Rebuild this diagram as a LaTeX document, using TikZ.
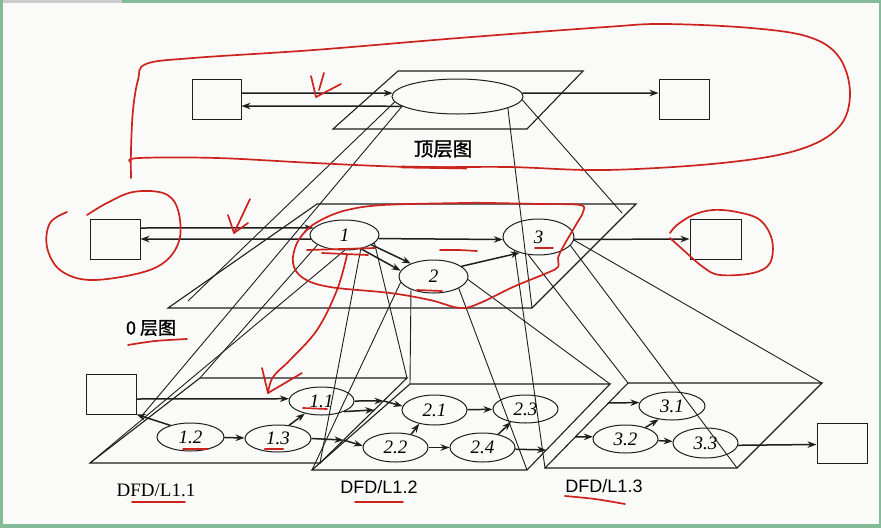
\documentclass[tikz,border=0pt]{standalone}
\usepackage{fontspec}
\setmainfont{Liberation Serif}
\setsansfont{Liberation Sans}
\newfontfamily\cjk[FakeBold=1.2]{Noto Sans CJK SC}
\usetikzlibrary{arrows,arrows.meta,shapes.geometric,calc}
\definecolor{inkred}{RGB}{205,35,30}
\definecolor{framegreen}{RGB}{132,186,152}
\definecolor{paper}{RGB}{250,250,248}
\definecolor{pen}{RGB}{30,30,30}
\tikzset{procstyle/.style = {ellipse, draw = pen, line width = 1pt, inner sep = 0pt, font = \fontsize{19}{19}\selectfont\itshape},
	boxstyle/.style = {rectangle, draw = pen, line width = 1pt, minimum width = 50pt, minimum height = 40pt, inner sep = 0pt},
	flow/.style={->, >={Stealth[length=9pt, width=6.5pt]}, line width = 1.5pt, draw = pen},
	proj/.style={draw = pen, line width = 0.9pt},
	plane/.style={draw = pen, line width = 1.1pt},
	ink/.style={draw = inkred, line width = 1.7pt, line cap = round, line join = round}}

\begin{document}
\begin{tikzpicture}[x = 1pt, y = -1pt]

 % paper and frame
 \useasboundingbox (0,0) rectangle (881,528);
 \fill[paper] (0,0) rectangle (881,528);
 \fill[gray!40] (0,0) rectangle (122,3);
 \fill[framegreen] (122,0) rectangle (881,3);
 \fill[framegreen] (0,0) rectangle (2.5,528);
 \fill[framegreen] (0,524) rectangle (881,528);
 \fill[framegreen] (878.5,0) rectangle (881,528);

 % planes
 \coordinate (tp1) at (398,71);  \coordinate (tp2) at (583,71);
 \coordinate (tp3) at (527,129); \coordinate (tp4) at (333,129);
 \coordinate (mp1) at (317,204); \coordinate (mp2) at (636,204);
 \coordinate (mp3) at (532,308); \coordinate (mp4) at (168,308);
 \coordinate (la1) at (200,378); \coordinate (la2) at (407,378);
 \coordinate (la3) at (320,463); \coordinate (la4) at (90,463);
 \coordinate (lb1) at (410,384); \coordinate (lb2) at (610,384);
 \coordinate (lb3) at (527,470); \coordinate (lb4) at (312,470);
 \coordinate (lc1) at (628,383); \coordinate (lc2) at (822,383);
 \coordinate (lc3) at (737,468); \coordinate (lc4) at (545,468);
 \foreach \pl in {tp,mp,la,lb,lc}
  \draw[plane] (\pl1) -- (\pl2) -- (\pl3) -- (\pl4) -- cycle;

 % top level
 \node (sys) at (457.5,96.5) [procstyle, minimum width = 131pt, minimum height = 35pt] {};
 \node (srcA) at (216.5,99) [boxstyle, minimum width = 49pt] {};
 \node (snkA) at (684,99) [boxstyle] {};
 \draw[flow] ([yshift=6pt]srcA.east) -- (sys.177);
 \draw[flow] (sys.190) -- ([yshift=-7pt]srcA.east);
 \draw[flow] (sys.3) -- ([yshift=6pt]snkA.west);
 \node (topcap) at (443,149) [font = \cjk\fontsize{19.5}{19.5}\selectfont] {顶层图};

 % level 0
 \node (p1) at (344.5,235) [procstyle, minimum width = 69pt, minimum height = 30pt] {1};
 \node (p2) at (433.5,276.5) [procstyle, minimum width = 69pt, minimum height = 33pt] {2};
 \node (p3) at (538.5,237) [procstyle, minimum width = 71pt, minimum height = 36pt] {3};
 \node (srcB) at (115,239) [boxstyle] {};
 \node (snkB) at (715.5,239) [boxstyle, minimum width = 51pt] {};
 \draw[flow] ([yshift=11pt]srcB.east) -- (p1.167);
 \draw[flow] (p1.187) -- (srcB.east);
 \draw[flow] (p1.354) -- (p3.184);
 \draw[flow] (p1.-20) -- (p2.150);
 \draw[flow] (p1.-40) -- (p2.170);
 \draw[flow] (p2.20) -- (p3.220);
 \draw[flow] (p3.356) -- (snkB.west);
 \node (midcap) at (151,328) [font = \cjk\fontsize{18}{18}\selectfont] {0 层图};

 % level 1
 \node (q11) at (321.5,401) [procstyle, minimum width = 65pt, minimum height = 28pt] {1.1};
 \node (q12) at (190.5,437) [procstyle, minimum width = 67pt, minimum height = 28pt] {1.2};
 \node (q13) at (278,438.5) [procstyle, minimum width = 66pt, minimum height = 27pt] {1.3};
 \node (q21) at (434.5,410) [procstyle, minimum width = 65pt, minimum height = 30pt] {2.1};
 \node (q22) at (395.5,447.5) [procstyle, minimum width = 65pt, minimum height = 29pt] {2.2};
 \node (q23) at (525.5,409) [procstyle, minimum width = 65pt, minimum height = 28pt] {2.3};
 \node (q24) at (482.5,447.5) [procstyle, minimum width = 65pt, minimum height = 29pt] {2.4};
 \node (q31) at (672,406) [procstyle, minimum width = 66pt, minimum height = 28pt] {3.1};
 \node (q32) at (625.5,439) [procstyle, minimum width = 65pt, minimum height = 28pt] {3.2};
 \node (q33) at (705.5,443) [procstyle, minimum width = 65pt, minimum height = 30pt] {3.3};
 \node (srcC) at (111,394) [boxstyle] {};
 \node (snkC) at (842,443) [boxstyle] {};

 % crossings of the plane borders
 \coordinate (xa) at ($(la2)!0.27!(la3)$);
 \coordinate (xb) at ($(la2)!0.376!(la3)$);
 \coordinate (xc) at ($(la2)!0.73!(la3)$);
 \coordinate (xd) at ($(lb2)!0.767!(lb3)$);
 \coordinate (xe) at ($(lc1)!0.235!(lc4)$);
 \coordinate (xf) at ($(lc1)!0.635!(lc4)$);

 \draw[flow] ([yshift=-5pt]srcC.east) -- (q11.176);
 \draw[flow] (q12.150) -- (srcC.south east);
 \draw[flow] (q12) -- (q13);
 \draw[flow] (q13.50) -- (q11.217);
 \draw[flow] (q11.east) -- (xa);
 \draw[flow] (xa) -- (q21.173);
 \draw[flow] (q11.-25) -- (xb);
 \draw[flow] (q13.east) -- (xc);
 \draw[flow] (xc) -- (q22.177);
 \draw[flow] (q21) -- (q23);
 \draw[flow] (q22.40) -- (q21.222);
 \draw[flow] (q22) -- (q24);
 \draw[flow] (q24.40) -- (q23.222);
 \draw[flow] (q24.-3) -- (xd);
 \draw[flow] (xe) -- (q31.174);
 \draw[flow] (xf) -- (q32.176);
 \draw[flow] (q32.30) -- (q31.225);
 \draw[flow] (q32) -- (q33);
 \draw[flow] (q33.-4) -- ([yshift=-1.5pt]snkC.west);

 \node (dfda) at (156,490) [font = \fontsize{19}{19}\selectfont] {DFD/L1.1};
 \node (dfdb) at (379,487) [font = \sffamily\fontsize{18}{18}\selectfont] {DFD/L1.2};
 \node (dfdc) at (604,486) [font = \sffamily\fontsize{18}{18}\selectfont] {DFD/L1.3};

 % projections between levels
 \coordinate (ta) at (188,301);
 \coordinate (tb) at (140,418);
 \coordinate (tc) at (622,213);
 \foreach \from/\to in {sys.185/ta, sys.190/tb, sys.-13/mp3, sys.-3/tc,
   p1.200/la1, p1.south/la4, p1.-40/la3, p1.-15/la2,
   p2.210/lb1, p2.190/lb4, p2.-25/lb3, p2.-5/lb2,
   p3.210/lc4, p3.240/lc1, p3.-15/lc3, p3.-5/lc2}
  \draw[proj] (\from) -- (\to);

 % red pen marks
 \draw[ink] plot[smooth, tension=0.6] coordinates {(131,178) (131,150) (133,110) (138,80) (146,64) (193,58) (314,50) (459,38) (606,27) (664,24) (751,28) (809,37) (839,57) (850,93) (839,127) (798,150) (722,163) (606,170) (508,167) (411,167) (314,163) (217,158) (139,158) (130,162)};
 \draw[ink, line width = 2.6pt] (402,167) -- (466,168);
 \draw[ink] (311,76) -- (316,97) -- (341,84);
 \draw[ink] (324,73) -- (319,90);
 \draw[ink] plot[smooth, tension=0.6] coordinates {(87,215) (107,203) (133,192) (163,193) (177,207) (180,237) (167,260) (140,273) (90,280) (60,270) (47,247) (50,223) (67,212)};
 \draw[ink] (228,215) -- (234,233) -- (250,199);
 \draw[ink] (234,233) -- (248,223);
 \draw[ink] plot[smooth, tension=0.6] coordinates {(327,217) (347,210) (383,205) (463,203) (490,203) (540,204) (580,205) (583,212) (577,223) (563,247) (558,258) (558,267) (547,273) (513,287) (480,303) (460,308) (430,300) (390,293) (330,287) (303,278) (293,263) (297,243) (310,227) (327,217)};
 \draw[ink] (307,250) -- (375,248);
 \draw[ink] (322,253) -- (368,255);
 \draw[ink] plot[smooth] coordinates {(440,250) (458,250) (477,251)};
 \draw[ink] (417,290) -- (442,291);
 \draw[ink] (535,248) -- (553,248);
 \draw[ink] plot[smooth] coordinates {(128,345) (155,341) (187,339)};
 \draw[ink] plot[smooth, tension=0.6] coordinates {(347,255) (337,290) (317,330) (290,360) (273,377) (268,393)};
 \draw[ink] (262,368) -- (268,393) -- (302,373);
 \draw[ink] plot[smooth, tension=0.6] coordinates {(670,233) (677,225) (693,215) (713,210) (737,212) (760,220) (772,240) (770,263) (753,273) (720,275) (703,267) (680,247) (670,238)};
 \draw[ink] (303,408) -- (327,409);
 \draw[ink] (183,449) -- (208,449);
 \draw[ink, line width = 2.4pt] (265,449) -- (283,449);
 \draw[ink] (132,502) -- (185,502);
 \draw[ink] (355,502) -- (403,502);
 \draw[ink] plot[smooth] coordinates {(565,496) (595,499) (625,504)};

\end{tikzpicture}
\end{document}
